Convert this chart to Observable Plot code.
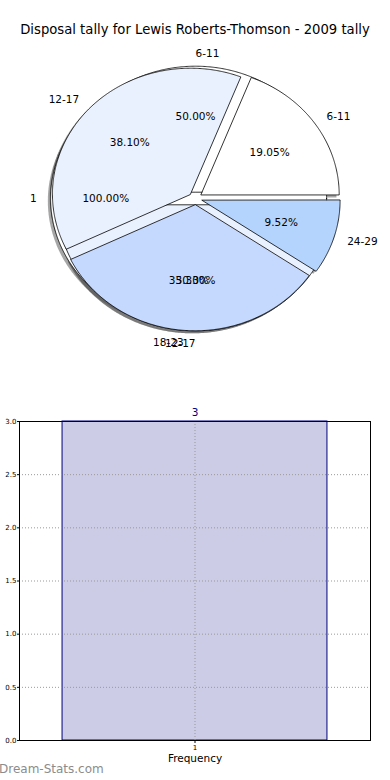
<!DOCTYPE html>
<html>
<head>
<meta charset="utf-8">
<script src="https://cdn.jsdelivr.net/npm/d3@7"></script>
<script src="https://cdn.jsdelivr.net/npm/@observablehq/plot@0.6"></script>
<style>
  html, body { margin: 0; padding: 0; background: #fff; width: 390px; height: 780px; overflow: hidden; font-family: "DejaVu Sans", sans-serif; }
  #wrap { position: relative; width: 390px; height: 780px; }
  #title { position: absolute; left: 0; top: 23px; width: 390px; text-align: center; font-size: 13.2px; line-height: 1; color: #000; }
  #pie { position: absolute; left: 0; top: 40px; }
  #bar { position: absolute; left: 0; top: 400px; }
  #mark { position: absolute; left: -1px; top: 763px; font-size: 12px; line-height: 1; color: #8c8c8c; }
  svg { display: block; }
</style>
</head>
<body>
<div id="wrap">
  <div id="title"></div>
  <div id="pie"></div>
  <div id="bar"></div>
  <div id="mark">Dream-Stats.com</div>
</div>
<script>
// ---------- data ----------
const titleText = "Disposal tally for Lewis Roberts-Thomson - 2009 tally";

// three pies drawn on top of each other (as in the original)
const pie1Labels = ["1"];
const pie1Values = [1];
const pie2Labels = ["6-11", "12-17"];
const pie2Values = [1, 1];
const pie3Labels = ["6-11", "12-17", "18-23", "24-29"];
const pie3Values = [4, 8, 7, 2];
const sliceColors = ["#ffffff", "#eaf1fe", "#c5d9fe", "#b4d4fe"];

// bar chart
const barCategories = [1];
const barCounts = [3];
const yTicks = [0, 0.5, 1, 1.5, 2, 2.5, 3];
const xLabel = "Frequency";

// ---------- style params ----------
const EXPLODE = 0.05, LABEL_DIST = 1.1, PCT_DIST = 0.6;
const RX = 138, RY = 126, CX = 195, CY = 158;
const FONT = "DejaVu Sans";

document.getElementById("title").textContent = titleText;

// ---------- build pie geometry (data units) ----------
const pies = [
  {labels: pie1Labels, values: pie1Values},
  {labels: pie2Labels, values: pie2Values},
  {labels: pie3Labels, values: pie3Values}
];
const wedgePts = [], shadowPts = [], labelRows = [], pctRows = [];
let wid = 0;
pies.forEach((p, pi) => {
  const total = d3.sum(p.values);
  let start = 0;
  p.values.forEach((v, i) => {
    const sweep = v / total * 360;
    const t1 = start, t2 = start + sweep, mid = (t1 + t2) / 2;
    const mr = mid * Math.PI / 180;
    const ox = EXPLODE * Math.cos(mr), oy = EXPLODE * Math.sin(mr);
    const color = sliceColors[i % sliceColors.length];
    const pts = [];
    if (sweep < 360) pts.push([ox, oy]);
    const n = Math.max(2, Math.ceil(sweep / 0.5));
    for (let k = 0; k <= n; k++) {
      const a = (t1 + sweep * k / n) * Math.PI / 180;
      pts.push([ox + Math.cos(a), oy + Math.sin(a)]);
    }
    const id = "w" + (wid++);
    pts.forEach(([x, y]) => {
      wedgePts.push({id, x, y, color});
      shadowPts.push({id, x: x - 0.02, y: y - 0.02, color: "#4d4d4d"});
    });
    const lr = LABEL_DIST + EXPLODE, pr = PCT_DIST + EXPLODE;
    labelRows.push({x: lr * Math.cos(mr), y: lr * Math.sin(mr), text: p.labels[i], anchor: Math.cos(mr) > 0 ? "start" : "end"});
    pctRows.push({x: pr * Math.cos(mr), y: pr * Math.sin(mr), text: (v / total * 100).toFixed(2) + "%"});
    start = t2;
  });
});

const pieChart = Plot.plot({
  width: 390, height: 360, margin: 0,
  style: {fontFamily: FONT, background: "transparent"},
  x: {domain: [-1, 1], range: [CX - RX, CX + RX], axis: null},
  y: {domain: [-1, 1], range: [CY + RY, CY - RY], axis: null},
  color: {type: "identity"},
  marks: [
    Plot.line(shadowPts, {x: "x", y: "y", z: "id", fill: "color", fillOpacity: 0.5, stroke: "none", curve: "linear-closed"}),
    Plot.line(wedgePts, {x: "x", y: "y", z: "id", fill: "color", stroke: "#000", strokeWidth: 0.8, curve: "linear-closed"}),
    Plot.text(labelRows.filter(d => d.anchor === "start"), {x: "x", y: "y", text: "text", textAnchor: "start", fontSize: 10.5, fill: "#000"}),
    Plot.text(labelRows.filter(d => d.anchor === "end"), {x: "x", y: "y", text: "text", textAnchor: "end", fontSize: 10.5, fill: "#000"}),
    Plot.text(pctRows, {x: "x", y: "y", text: "text", textAnchor: "middle", fontSize: 10.5, fill: "#000"})
  ]
});
document.getElementById("pie").appendChild(pieChart);

// ---------- bar chart ----------
const barData = barCategories.map((c, i) => ({cat: c, count: barCounts[i]}));
const BAR_W = 0.8;
const barChart = Plot.plot({
  width: 390, height: 380,
  marginTop: 21, marginBottom: 40, marginLeft: 19, marginRight: 20,
  style: {fontFamily: FONT, background: "transparent"},
  x: {domain: [0.47, 1.53]},
  y: {domain: [0, 3]},
  marks: [
    Plot.rectY(barData, {x1: d => d.cat - BAR_W / 2, x2: d => d.cat + BAR_W / 2, y1: 0, y2: "count", fill: "#ccccE6", stroke: "#000080", strokeWidth: 1}),
    Plot.gridY(yTicks, {stroke: "#999", strokeOpacity: 1, strokeDasharray: "1,2"}),
    Plot.gridX(barCategories, {stroke: "#999", strokeOpacity: 1, strokeDasharray: "1,2"}),
    Plot.frame({stroke: "#000", strokeWidth: 1}),
    Plot.axisY(yTicks, {tickFormat: d => d.toFixed(1), fontSize: 7, tickSize: 2, tickPadding: 1, label: null, stroke: "#000"}),
    Plot.axisX(barCategories, {tickFormat: d => String(d), fontSize: 7, tickSize: 3, tickPadding: 2, label: null, stroke: "#000"}),
    Plot.text(barData, {x: "cat", y: "count", text: d => String(d.count), dy: -9, fill: "#000080", fontSize: 10.5}),
    Plot.text([xLabel], {frameAnchor: "bottom", text: d => d, dy: 21, fontSize: 10.5, fill: "#000"})
  ]
});
document.getElementById("bar").appendChild(barChart);
</script>
</body>
</html>
